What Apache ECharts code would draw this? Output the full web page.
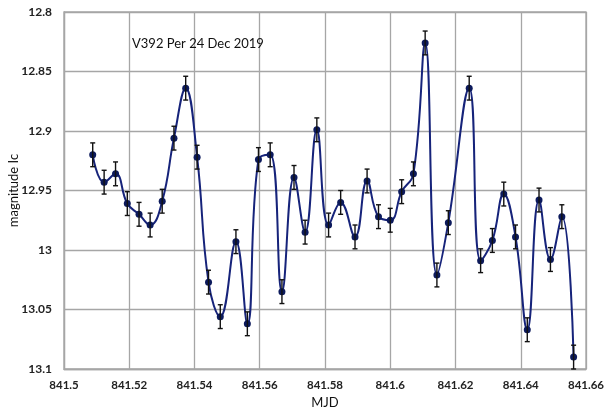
<!DOCTYPE html>
<html>
<head>
<meta charset="utf-8">
<script src="https://cdn.jsdelivr.net/npm/echarts@6/dist/echarts.min.js"></script>
<style>
  html, body { margin: 0; padding: 0; background: #fff; }
  #chart { width: 604px; height: 415px; }
</style>
</head>
<body>
<div id="chart"></div>
<script>
// V392 Per photometry, 24 Dec 2019 (Ic band)
const mjd = [
  841.5088, 841.5123, 841.5158, 841.5194, 841.5230, 841.5264, 841.5301, 841.5337,
  841.5373, 841.5408, 841.5443, 841.5479, 841.5527, 841.5562, 841.5596, 841.5632,
  841.5668, 841.5705, 841.5739, 841.5775, 841.5811, 841.5848, 841.5892, 841.5929,
  841.5964, 841.6000, 841.6035, 841.6071, 841.6107, 841.6143, 841.6178, 841.6242,
  841.6277, 841.6313, 841.6348, 841.6384, 841.6420, 841.6456, 841.6491, 841.6526,
  841.6562
];
const magIc = [
  12.920, 12.943, 12.936, 12.961, 12.970, 12.979, 12.959, 12.906,
  12.864, 12.922, 13.027, 13.056, 12.993, 13.062, 12.924, 12.920,
  13.035, 12.939, 12.985, 12.899, 12.979, 12.960, 12.989, 12.942,
  12.972, 12.975, 12.951, 12.936, 12.826, 13.021, 12.977, 12.864,
  13.009, 12.992, 12.953, 12.989, 13.067, 12.958, 13.008, 12.972,
  13.090
];
const magErr = [
  0.010, 0.010, 0.010, 0.010, 0.010, 0.010, 0.010, 0.010,
  0.010, 0.010, 0.010, 0.010, 0.010, 0.010, 0.010, 0.010,
  0.010, 0.010, 0.010, 0.010, 0.010, 0.010, 0.010, 0.010,
  0.010, 0.010, 0.010, 0.010, 0.010, 0.010, 0.010, 0.010,
  0.010, 0.010, 0.010, 0.010, 0.010, 0.010, 0.010, 0.010,
  0.010
];
const xTicks = { min: 841.5, max: 841.66, step: 0.02 };
const yTicks = { min: 12.8, max: 13.1, step: 0.05 };
const titleText = 'V392 Per 24 Dec 2019';

const FONT = 'Lato, "Open Sans", sans-serif';
const points = mjd.map((x, i) => [x, magIc[i]]);
const bars = mjd.map((x, i) => [x, magIc[i] - magErr[i], magIc[i] + magErr[i]]);

const chart = echarts.init(document.getElementById('chart'), null, { renderer: 'canvas' });
chart.setOption({
  animation: false,
  backgroundColor: '#ffffff',
  title: {
    text: titleText,
    left: 127, top: 32,
    textStyle: { fontFamily: FONT, fontSize: 13, fontWeight: 'normal', color: '#111' }
  },
  grid: {
    left: 64, right: 18, top: 12, bottom: 46,
    outerBoundsMode: 'none', containLabel: false,
    show: true, borderColor: '#a6a6a6', borderWidth: 1.3
  },
  xAxis: {
    type: 'value',
    min: xTicks.min, max: xTicks.max, interval: xTicks.step,
    name: 'MJD', nameLocation: 'middle', nameGap: 27, nameMoveOverlap: false,
    nameTextStyle: { fontFamily: FONT, fontSize: 13, color: '#111' },
    axisLine: { show: true, lineStyle: { color: '#a6a6a6', width: 1.3 } },
    axisTick: { show: false },
    axisLabel: { fontFamily: FONT, fontSize: 11.5, color: '#222', fontWeight: 'bold', margin: 10, showMinLabel: true, showMaxLabel: true, hideOverlap: false },
    splitLine: { show: true, lineStyle: { color: '#a6a6a6', width: 1.3 } }
  },
  yAxis: {
    type: 'value', inverse: true,
    min: yTicks.min, max: yTicks.max, interval: yTicks.step,
    name: 'magnitude Ic', nameLocation: 'middle', nameGap: 44, nameRotate: 90, nameMoveOverlap: false,
    nameTextStyle: { fontFamily: FONT, fontSize: 13, color: '#111' },
    axisLine: { show: true, lineStyle: { color: '#a6a6a6', width: 1.3 } },
    axisTick: { show: false },
    axisLabel: { fontFamily: FONT, fontSize: 12, color: '#222', fontWeight: 'bold', margin: 12 },
    splitLine: { show: true, lineStyle: { color: '#a6a6a6', width: 1.3 } }
  },
  series: [
    {
      type: 'line',
      data: points,
      smooth: 0.45,
      symbol: 'circle',
      symbolSize: 7,
      lineStyle: { color: '#16237a', width: 2 },
      itemStyle: { color: '#0c1a5c' },
      z: 2
    },
    {
      type: 'custom',
      data: bars,
      z: 3,
      renderItem: function (params, api) {
        const x = api.value(0);
        const top = api.coord([x, api.value(1)]);
        const bot = api.coord([x, api.value(2)]);
        const cap = 2.5;
        const style = { stroke: '#111', lineWidth: 1.4 };
        return {
          type: 'group',
          children: [
            { type: 'line', shape: { x1: top[0], y1: top[1], x2: bot[0], y2: bot[1] }, style },
            { type: 'line', shape: { x1: top[0] - cap, y1: top[1], x2: top[0] + cap, y2: top[1] }, style },
            { type: 'line', shape: { x1: bot[0] - cap, y1: bot[1], x2: bot[0] + cap, y2: bot[1] }, style }
          ]
        };
      }
    }
  ]
});
</script>
</body>
</html>
